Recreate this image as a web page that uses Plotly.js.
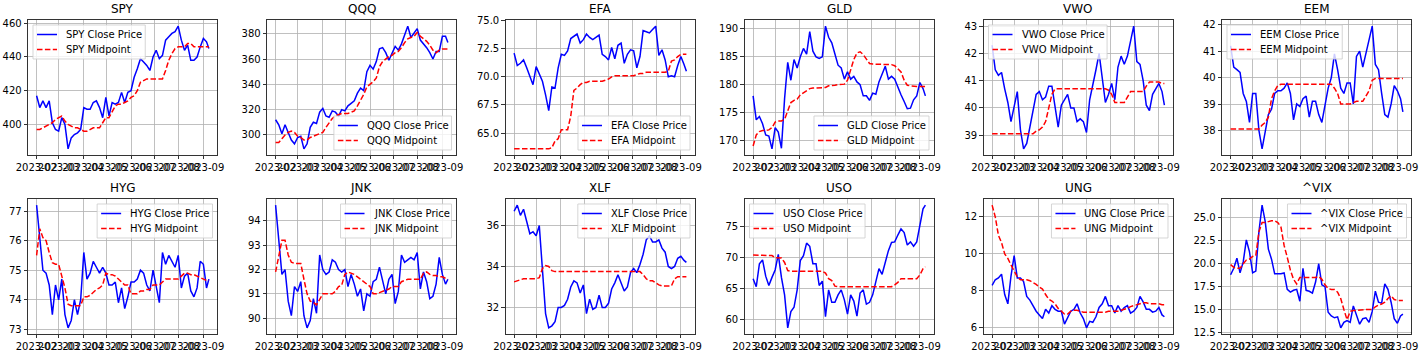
<!DOCTYPE html>
<html>
<head>
<meta charset="utf-8">
<script src="https://cdn.plot.ly/plotly-3.0.1.min.js"></script>
<style>html,body{margin:0;padding:0;background:#fff;}#chart{width:1420px;height:358px;}</style>
</head>
<body>
<div id="chart"></div>
<script>
// ---------- DATA ----------
const dates = ['2023-02-01','2023-02-05','2023-02-09','2023-02-13','2023-02-17','2023-02-21','2023-02-25','2023-03-01',
'2023-03-05','2023-03-09','2023-03-13','2023-03-17','2023-03-21','2023-03-25','2023-03-29','2023-04-02','2023-04-06',
'2023-04-10','2023-04-14','2023-04-18','2023-04-22','2023-04-26','2023-04-30','2023-05-04','2023-05-08','2023-05-12',
'2023-05-16','2023-05-20','2023-05-24','2023-05-28','2023-06-01','2023-06-05','2023-06-09','2023-06-13','2023-06-17',
'2023-06-21','2023-06-25','2023-06-29','2023-07-03','2023-07-07','2023-07-11','2023-07-15','2023-07-19','2023-07-23',
'2023-07-27','2023-07-31','2023-08-04','2023-08-08','2023-08-12','2023-08-16','2023-08-20','2023-08-24','2023-08-28',
'2023-09-01','2023-09-05','2023-09-08'];
const tickDates = ['2023-02-01','2023-03-01','2023-04-01','2023-05-01','2023-06-01','2023-07-01','2023-08-01','2023-09-01'];
const tickLabels = ['2023-02','2023-03','2023-04','2023-05','2023-06','2023-07','2023-08','2023-09'];
const tickers = ['SPY','QQQ','EFA','GLD','VWO','EEM','HYG','JNK','XLF','USO','UNG','^VIX'];

const spyClose = [417,410,414,410,414,401,397,396,404,400,385.5,392,394,395,397,410,409,409,413,414,410,404,416,405,413,412,413,419,413,419,420,428,433,439,437,435,432,440,444,439,441,450,452,454,455,458.3,450,444,447,438,438,440,446,451,449,445];
const spyMid = [397,397,398,399,400,401,403,404,405,402,400,399,398,398,397,396,396,397,398,398,398,401,404,404,408,411,412,412,413,414,416,417,420,425,426,427,427,427,427,427,427,432,438,442,445,446,446,446,448,448,446,446,446,446,446,446];

const qqqClose = [312,308,301,308,302,296,293,298,299,289,293,306,310,309,318,321,315,314,319,318,315,320,319,323,325,327,333,337,335,350,355,352,358,368,369,365,359,365,370,367,372,379,386,377,381,384,375,372,369,365,360,366,366,378,378,373];
const qqqMid = [294,294,297,300,302,303,302,299,298,296,296,298,299,300,301,302,306,310,313,315,316,317,317,317,318,319,323,327,332,338,340,342,345,354,358,360,362,363,365,366,369,373,376,377,378,381,378,376,374,371,367,365,367,368,368,368];

const efaClose = [72.1,71.0,71.2,71.5,70.8,70.0,69.3,70.9,70.2,69.6,68.4,67.0,69.1,69.0,70.8,72.0,71.9,72.3,73.4,73.6,73.8,73.0,73.3,73.8,73.5,73.3,73.5,73.7,72.0,71.8,71.5,72.6,71.6,72.8,73.0,71.2,72.0,72.4,72.3,70.8,71.8,74.1,74.0,73.9,74.2,74.5,71.9,72.4,71.5,70.0,70.1,70.0,71.0,71.8,71.1,70.5];
const efaMid = [63.6,63.6,63.6,63.6,63.6,63.6,63.6,63.6,63.6,63.6,63.6,63.6,63.7,64.3,64.5,65.3,65.3,65.3,66.5,68.8,69.0,69.3,69.5,69.5,69.6,69.6,69.6,69.6,69.6,69.7,69.8,70.0,70.1,70.1,70.1,70.1,70.1,70.1,70.1,70.2,70.3,70.3,70.4,70.4,70.4,70.4,70.4,70.4,70.4,70.5,71.4,71.5,71.8,72.0,72.0,72.0];

const gldClose = [178,173.7,174.3,173,171,170.8,168.5,172.3,171.5,168.6,177.5,184,180.8,184.5,183,185,186.5,185.5,189.5,186,185,184.7,185,190.5,188.5,187.5,185.5,183.5,183,181,182.3,181,181.5,180.5,180,178,178,177.2,178.5,178.3,180.5,182,183.3,181,181.5,181,179.5,178.2,177,175.7,175.8,177.3,178,180.4,179.3,178];
const gldMid = [169,171,171.6,171.8,171.8,171.9,172.3,173.3,173.5,173.5,173.8,175.3,176.8,177.2,177.4,178.2,178.6,179,179.3,179.4,179.4,179.4,179.4,179.5,179.8,179.8,179.9,180,180,180.1,180.8,182.8,184.5,185.7,185.9,185.4,184.5,183.8,183.7,183.7,183.7,183.7,183.7,183.7,183.6,183.4,182.8,182.3,180.8,179.9,179.8,179.7,179.7,179.7,179.7,179.7];

const vwoClose = [42.3,41.4,41.2,41.3,40.7,40.2,39.5,40.1,40.6,39.2,38.5,38.7,39.3,39.8,40.5,40.6,40.3,40.4,40.8,40.8,40.0,39.3,40.1,40.3,40.5,40.0,40.0,39.5,39.6,39.5,39.1,40.3,40.8,41.4,42.0,41.0,40.2,40.5,40.9,40.3,41.5,41.9,41.6,41.9,42.4,43.0,41.7,41.6,41.0,40.1,39.9,40.5,40.7,40.9,40.6,40.1];
const vwoMid = [39.05,39.05,39.05,39.05,39.05,39.05,39.05,39.05,39.05,39.05,39.05,39.05,39.05,39.05,39.15,39.2,39.3,39.5,40.0,40.5,40.7,40.7,40.7,40.7,40.7,40.7,40.7,40.7,40.7,40.7,40.7,40.7,40.7,40.7,40.7,40.7,40.7,40.65,40.5,40.2,40.2,40.2,40.2,40.4,40.6,40.6,40.6,40.6,40.6,40.8,40.95,40.95,40.95,40.95,40.9,40.9];

const eemClose = [41.2,40.4,40.3,40.2,39.4,39.1,38.3,39.4,39.4,38.0,37.3,38.0,38.6,38.8,39.4,39.5,39.5,39.6,39.8,39.4,38.4,39.0,38.9,39.2,39.3,38.5,39.1,39.1,38.6,38.3,38.9,39.6,40.0,40.9,40.3,39.6,39.4,39.8,39.8,39.0,40.8,41.0,40.4,40.9,41.5,41.95,40.5,40.3,39.4,38.6,38.5,39.0,39.7,39.5,39.2,38.7];
const eemMid = [38.05,38.05,38.05,38.05,38.05,38.05,38.05,38.05,38.05,38.05,38.2,38.3,38.5,39.2,39.5,39.7,39.75,39.75,39.75,39.75,39.75,39.75,39.75,39.75,39.75,39.75,39.75,39.75,39.75,39.75,39.75,39.75,39.75,39.6,39.4,39.0,39.0,39.0,39.0,39.05,39.1,39.1,39.1,39.3,39.5,39.9,39.97,39.97,39.97,39.97,39.97,39.97,39.97,39.97,39.97,39.97];

const hygClose = [77.2,76.0,75.0,74.9,74.5,73.5,74.5,74.0,74.7,73.5,73.05,73.3,74.0,73.5,74.0,75.6,74.7,74.9,75.3,75.1,74.9,75.1,74.9,74.5,74.5,74.6,73.9,74.4,73.7,74.1,74.6,74.6,74.7,75.0,74.9,74.5,74.3,75.0,74.4,73.9,75.6,75.2,75.5,75.3,75.1,75.5,74.4,74.8,74.9,74.3,74.1,74.4,75.3,75.2,74.4,74.7];
const hygMid = [75.5,76.4,76.1,76.0,75.6,75.25,75.2,75.2,74.8,74.4,73.85,73.8,73.8,73.8,73.8,74.1,74.1,74.15,74.25,74.35,74.4,74.5,74.9,74.85,74.85,74.8,74.7,74.6,74.5,74.5,74.2,74.2,74.2,74.3,74.3,74.35,74.35,74.5,74.5,74.5,74.6,74.7,74.7,74.7,74.7,74.7,74.8,74.9,74.9,74.85,74.85,74.8,74.75,74.7,74.65,74.65];

const jnkClose = [94.65,93.3,91.8,92.0,90.7,90.1,91.3,91.1,91.5,90.1,89.6,89.9,90.8,90.2,92.6,92.0,91.8,91.9,92.4,92.3,92.0,91.9,92.0,91.3,91.8,91.4,90.9,91.2,90.3,91.0,90.9,91.5,91.6,92.1,91.6,91.0,91.6,91.8,90.6,91.1,92.6,92.3,92.4,92.5,92.4,92.7,91.2,91.9,91.5,90.8,90.9,91.4,92.5,91.8,91.4,91.6];
const jnkMid = [91.9,92.6,93.2,93.2,92.6,92.3,92.25,92.25,92.25,91.6,91.0,90.7,90.65,90.55,90.8,91.0,91.0,91.0,91.0,91.1,91.3,91.35,91.8,91.9,91.85,91.8,91.7,91.6,91.5,91.4,91.3,91.0,91.0,91.05,91.1,91.15,91.2,91.3,91.3,91.3,91.5,91.55,91.6,91.6,91.6,91.6,91.6,91.85,91.9,91.8,91.75,91.75,91.7,91.7,91.65,91.6];

const xlfClose = [36.7,37.0,36.5,36.8,36.2,35.6,35.7,35.5,36.0,33.8,31.7,31.0,31.1,31.3,32.0,32.0,32.1,32.4,33.0,33.3,33.2,32.7,33.1,31.7,32.4,31.9,32.0,32.6,32.0,32.0,32.2,32.9,33.2,33.6,33.2,32.8,33.0,33.7,33.9,33.7,34.1,34.6,35.3,35.5,35.2,35.2,35.3,34.9,34.7,34.0,33.9,34.0,34.4,34.5,34.3,34.2];
const xlfMid = [33.25,33.3,33.35,33.4,33.4,33.4,33.4,33.4,33.45,33.9,34.05,34.0,33.8,33.75,33.75,33.75,33.75,33.75,33.75,33.75,33.75,33.75,33.75,33.75,33.75,33.75,33.75,33.75,33.75,33.75,33.75,33.75,33.75,33.75,33.75,33.75,33.75,33.75,33.75,33.75,33.75,33.6,33.4,33.3,33.3,33.2,33.1,33.05,33.05,33.05,33.05,33.4,33.5,33.5,33.5,33.5];

const usoClose = [66.6,65.3,69.0,69.6,67.0,65.5,66.8,68.0,70.5,66.8,64.0,58.7,61.3,62.0,64.8,69.5,70.3,72.3,71.8,69.0,69.0,65.5,66.2,60.5,64.8,62.8,62.8,64.0,64.8,63.2,60.9,64.0,63.0,60.6,64.3,64.8,62.5,62.8,64.0,66.0,68.2,67.3,69.3,71.1,72.4,72.5,73.6,74.6,74.0,72.0,72.5,71.8,72.5,75.5,77.8,78.4];
const usoMid = [70.4,70.4,70.4,70.4,70.4,70.4,70.3,69.95,69.9,69.9,69.2,67.9,67.8,67.8,67.8,67.8,67.8,67.8,67.8,67.8,67.8,67.8,67.8,67.5,66.6,66.3,65.4,65.3,65.3,65.3,65.3,65.3,65.3,65.3,65.3,65.3,65.3,65.3,65.3,65.3,65.3,65.3,65.3,65.3,65.3,65.6,66.0,66.6,66.6,66.6,66.6,66.6,66.6,67.2,68.2,68.5];

const ungClose = [8.3,8.6,8.7,8.9,7.8,7.3,8.8,9.9,8.7,8.7,8.5,7.7,7.5,7.2,6.9,6.7,6.5,7.0,6.8,7.2,7.0,6.9,6.9,6.2,6.6,6.9,7.0,7.3,6.8,6.5,6.0,6.35,6.3,6.6,7.1,7.3,7.7,7.2,7.2,6.8,7.2,6.9,7.1,7.2,6.8,6.9,7.1,7.7,7.4,7.0,7.0,6.85,6.9,7.1,6.7,6.6];
const ungMid = [12.63,12.0,11.0,10.6,10.0,9.75,9.4,9.1,8.75,8.6,8.6,8.6,8.55,8.45,8.35,8.2,8.1,7.8,7.55,7.45,7.3,7.05,6.9,6.75,6.75,6.9,6.95,6.95,6.9,6.85,6.85,6.85,6.85,6.85,6.85,6.85,6.85,6.9,6.9,6.9,6.9,6.95,7.0,7.05,7.15,7.2,7.25,7.3,7.35,7.35,7.3,7.3,7.3,7.3,7.25,7.25];

const vixClose = [18.8,19.5,20.6,19.0,20.2,22.6,21.3,19.0,19.2,23.5,26.4,24.6,21.6,20.5,18.9,18.9,18.9,19.0,17.2,16.9,17.1,17.2,15.9,19.5,17.1,17.0,16.8,18.0,20.0,17.7,17.5,14.7,14.3,14.1,14.2,13.0,13.6,13.8,13.6,15.4,14.5,13.4,14.0,14.1,13.6,14.8,17.0,15.8,15.7,17.8,17.2,15.8,14.0,13.5,14.3,14.5];
const vixMid = [19.9,19.6,19.5,19.5,20.0,20.4,20.5,20.8,20.9,23.5,24.5,24.5,24.6,24.7,24.7,24.5,24.0,22.0,20.7,19.3,18.3,17.8,18.5,18.5,18.5,18.5,18.5,18.5,18.6,18.3,17.7,17.3,17.2,17.2,16.9,16.2,15.0,13.9,14.8,14.9,14.9,14.95,15.0,15.0,15.0,15.0,15.3,15.5,15.6,15.8,16.2,16.5,16.1,16.0,16.0,16.0];

const spyTicks = [400,420,440,460];
const qqqTicks = [300,320,340,360,380];
const efaTicks = [65.0,67.5,70.0,72.5,75.0];
const gldTicks = [170,175,180,185,190];
const vwoTicks = [39,40,41,42,43];
const eemTicks = [38,39,40,41,42];
const hygTicks = [73,74,75,76,77];
const jnkTicks = [90,91,92,93,94];
const xlfTicks = [32,34,36];
const usoTicks = [60,65,70,75];
const ungTicks = [6,8,10,12];
const vixTicks = [12.5,15.0,17.5,20.0,22.5,25.0];

// ---------- BUILD ----------
const closes = [spyClose,qqqClose,efaClose,gldClose,vwoClose,eemClose,hygClose,jnkClose,xlfClose,usoClose,ungClose,vixClose];
const mids = [spyMid,qqqMid,efaMid,gldMid,vwoMid,eemMid,hygMid,jnkMid,xlfMid,usoMid,ungMid,vixMid];
const yticks = [spyTicks,qqqTicks,efaTicks,gldTicks,vwoTicks,eemTicks,hygTicks,jnkTicks,xlfTicks,usoTicks,ungTicks,vixTicks];
const oneDecimal = [false,false,true,false,false,false,false,false,false,false,false,true];
const legendLoc = ['ul','lr','lr','lr','ul','ul','ur','ur','ur','ul','ur','ur'];

const W = 1420, H = 358;
const colLeft = [28, 267, 505.5, 744.5, 983.5, 1222];
const axW = 189.5;
const rowTop = [20, 199];
const axH = 135;
const FONT = 'DejaVu Sans, Verdana, sans-serif';
const BLUE = '#0000ff', RED = '#ff0000', DASH = '5.5px,2.4px';

const canvas = document.createElement('canvas');
const ctx = canvas.getContext('2d');
ctx.font = '10px "DejaVu Sans"';
function textW(s){ return ctx.measureText(s).width; }

function fmt(ms){ return new Date(ms).toISOString().slice(0,19).replace('T',' '); }
const t0 = Date.parse(dates[0]), t1 = Date.parse(dates[dates.length-1]);
const xpad = (t1 - t0) * 0.05;
const xRange = [fmt(t0 - xpad), fmt(t1 + xpad)];
const px = x => x / W, py = y => 1 - y / H;

const traces = [];
const shapes = [];
const annotations = [];
const layout = {
  width: W, height: H,
  margin: {l:0, r:0, t:0, b:0},
  paper_bgcolor: 'white', plot_bgcolor: 'white',
  font: {family: FONT, size: 10, color: 'black'},
  showlegend: false
};

tickers.forEach((t, i) => {
  const sfx = i === 0 ? '' : String(i + 1);
  const r = Math.floor(i / 6), c = i % 6;
  const left = colLeft[c], right = left + axW;
  const top = rowTop[r], bottom = top + axH;
  const all = closes[i].concat(mids[i]);
  const lo = Math.min(...all), hi = Math.max(...all);
  const pad = (hi - lo) * 0.05;
  const names = [t + ' Close Price', t + ' Midpoint'];

  traces.push({
    x: dates, y: closes[i], type: 'scatter', mode: 'lines',
    name: names[0], line: {color: BLUE, width: 1.5},
    xaxis: 'x' + sfx, yaxis: 'y' + sfx, hoverinfo: 'skip'
  });
  traces.push({
    x: dates, y: mids[i], type: 'scatter', mode: 'lines',
    name: names[1], line: {color: RED, width: 1.5, dash: DASH},
    xaxis: 'x' + sfx, yaxis: 'y' + sfx, hoverinfo: 'skip'
  });

  const common = {
    showgrid: true, gridcolor: '#b0b0b0', gridwidth: 0.8,
    showline: true, linecolor: 'black', linewidth: 0.8, mirror: true,
    ticks: 'outside', ticklen: 3.5, tickwidth: 0.8, tickcolor: 'black',
    tickfont: {family: FONT, size: 10, color: 'black'},
    zeroline: false, fixedrange: true
  };
  layout['xaxis' + sfx] = Object.assign({}, common, {
    domain: [left / W, right / W], anchor: 'y' + sfx, type: 'date',
    range: xRange, tickmode: 'array', tickvals: tickDates, ticktext: tickLabels, tickangle: 0
  });
  layout['yaxis' + sfx] = Object.assign({}, common, {
    domain: [1 - bottom / H, 1 - top / H], anchor: 'x' + sfx,
    range: [lo - pad, hi + pad], tickmode: 'array', tickvals: yticks[i],
    ticktext: yticks[i].map(v => oneDecimal[i] ? v.toFixed(1) : String(v))
  });

  // matplotlib-like legend box
  const tw = Math.max(textW(names[0]), textW(names[1]));
  const bw = 4 + 20 + 8 + tw + 4, bh = 34;
  const loc = legendLoc[i];
  const bl = loc[1] === 'l' ? left + 5 : right - 5 - bw;
  const bt = loc[0] === 'u' ? top + 5 : bottom - 5 - bh;
  shapes.push({
    type: 'rect', xref: 'paper', yref: 'paper', layer: 'above',
    x0: px(bl), x1: px(bl + bw), y0: py(bt + bh), y1: py(bt),
    fillcolor: 'rgba(255,255,255,0.8)', line: {color: 'rgba(204,204,204,0.8)', width: 1}
  });
  const rows = [bt + 9.5, bt + 24.5];
  [BLUE, RED].forEach((col, j) => {
    shapes.push({
      type: 'line', xref: 'paper', yref: 'paper', layer: 'above',
      x0: px(bl + 4), x1: px(bl + 24), y0: py(rows[j]), y1: py(rows[j]),
      line: {color: col, width: 1.5, dash: j === 1 ? DASH : 'solid'}
    });
    annotations.push({
      text: names[j], xref: 'paper', yref: 'paper',
      x: px(bl + 31), y: py(rows[j]), xanchor: 'left', yanchor: 'middle',
      showarrow: false, font: {family: FONT, size: 10, color: 'black'}
    });
  });

  annotations.push({
    text: t, xref: 'paper', yref: 'paper',
    x: (left + right) / 2 / W, y: 1 - top / H,
    xanchor: 'center', yanchor: 'bottom', yshift: 2, showarrow: false,
    font: {family: FONT, size: 12, color: 'black'}
  });
});

layout.shapes = shapes;
layout.annotations = annotations;
Plotly.newPlot('chart', traces, layout, {staticPlot: true, displayModeBar: false});
</script>
</body>
</html>
